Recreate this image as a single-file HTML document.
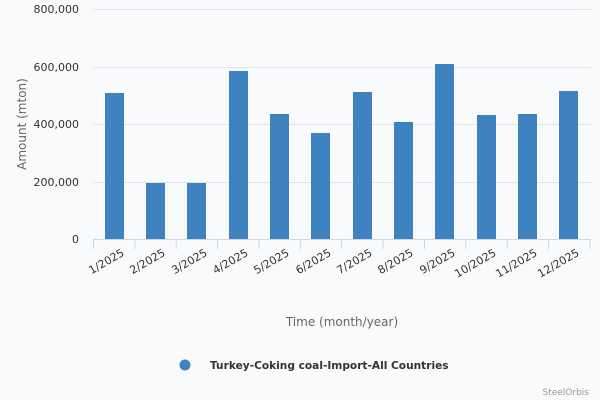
<!DOCTYPE html>
<html><head><meta charset="utf-8"><style>
html,body{margin:0;padding:0;background:#f9fafb}
svg{display:block;font-family:"DejaVu Sans","Liberation Sans",sans-serif}
</style></head><body>
<svg width="600" height="400" viewBox="0 0 600 400" xmlns="http://www.w3.org/2000/svg">
<rect width="600" height="400" fill="#f9fafb"/>
<g stroke="#e2e4e8" stroke-width="1">
<line x1="93" y1="9.5" x2="591" y2="9.5"/>
<line x1="93" y1="67.5" x2="591" y2="67.5"/>
<line x1="93" y1="124.5" x2="591" y2="124.5"/>
<line x1="93" y1="182.5" x2="591" y2="182.5"/>
</g>
<g fill="#3f82c0">
<rect x="105" y="93" width="19" height="146"/>
<rect x="146" y="183" width="19" height="56"/>
<rect x="187" y="183" width="19" height="56"/>
<rect x="229" y="71" width="19" height="168"/>
<rect x="270" y="114" width="19" height="125"/>
<rect x="311" y="133" width="19" height="106"/>
<rect x="353" y="92" width="19" height="147"/>
<rect x="394" y="122" width="19" height="117"/>
<rect x="435" y="64" width="19" height="175"/>
<rect x="477" y="115" width="19" height="124"/>
<rect x="518" y="114" width="19" height="125"/>
<rect x="559" y="91" width="19" height="148"/>
</g>
<g stroke="#ccd6eb" stroke-width="1">
<line x1="93" y1="239.5" x2="591" y2="239.5"/>
<line x1="93.5" y1="239" x2="93.5" y2="249"/>
<line x1="134.9" y1="239" x2="134.9" y2="249"/>
<line x1="176.2" y1="239" x2="176.2" y2="249"/>
<line x1="217.6" y1="239" x2="217.6" y2="249"/>
<line x1="259" y1="239" x2="259" y2="249"/>
<line x1="300.3" y1="239" x2="300.3" y2="249"/>
<line x1="341.7" y1="239" x2="341.7" y2="249"/>
<line x1="383.1" y1="239" x2="383.1" y2="249"/>
<line x1="424.5" y1="239" x2="424.5" y2="249"/>
<line x1="465.8" y1="239" x2="465.8" y2="249"/>
<line x1="507.2" y1="239" x2="507.2" y2="249"/>
<line x1="548.6" y1="239" x2="548.6" y2="249"/>
<line x1="590" y1="239" x2="590" y2="249"/>
</g>
<g font-size="11" fill="#333" text-anchor="end">
<text x="79" y="13">800,000</text>
<text x="79" y="71">600,000</text>
<text x="79" y="128">400,000</text>
<text x="79" y="186">200,000</text>
<text x="79" y="243">0</text>
</g>
<text transform="translate(26,124) rotate(-90)" font-size="12" fill="#666" text-anchor="middle">Amount (mton)</text>
<g font-size="11" fill="#333" text-anchor="end">
<text transform="translate(125,255) rotate(-30)">1/2025</text>
<text transform="translate(166,255) rotate(-30)">2/2025</text>
<text transform="translate(208,255) rotate(-30)">3/2025</text>
<text transform="translate(249,255) rotate(-30)">4/2025</text>
<text transform="translate(290,255) rotate(-30)">5/2025</text>
<text transform="translate(332,255) rotate(-30)">6/2025</text>
<text transform="translate(373,255) rotate(-30)">7/2025</text>
<text transform="translate(414,255) rotate(-30)">8/2025</text>
<text transform="translate(456,255) rotate(-30)">9/2025</text>
<text transform="translate(497,255) rotate(-30)">10/2025</text>
<text transform="translate(538,255) rotate(-30)">11/2025</text>
<text transform="translate(580,255) rotate(-30)">12/2025</text>
</g>
<text x="342" y="326" font-size="12" fill="#666" text-anchor="middle">Time (month/year)</text>
<circle cx="185" cy="365" r="5.5" fill="#3f82c0"/>
<text x="210" y="369" font-size="10.6" font-weight="bold" fill="#333">Turkey-Coking coal-Import-All Countries</text>
<text x="589" y="395" font-size="9" fill="#999" text-anchor="end">SteelOrbis</text>
</svg>
</body></html>
